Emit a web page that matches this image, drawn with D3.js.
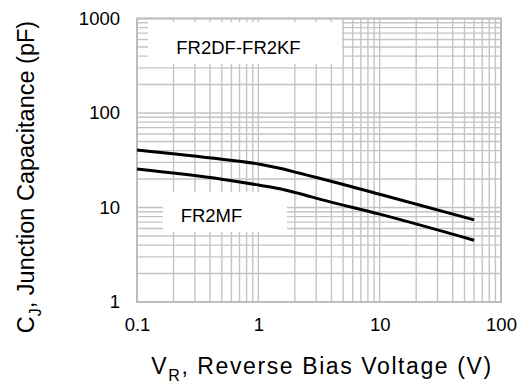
<!DOCTYPE html>
<html>
<head>
<meta charset="utf-8">
<script src="https://cdn.jsdelivr.net/npm/d3@7"></script>
<style>
  body { margin: 0; background: #fff; }
  text { font-family: "Liberation Sans", Arial, sans-serif; fill: #000; }
</style>
</head>
<body>
<svg id="chart" width="523" height="387"></svg>
<script>
// tick labels
const xTicks = [0.1, 1, 10, 100];
const yTicks = [1, 10, 100, 1000];

// FR2DF-FR2KF curve
const dkVolts = [0.1, 0.5, 1, 1.5, 2.2, 3.25, 10, 60];
const dkCap = [40.6, 32.4, 28.9, 26, 23, 20.3, 13.8, 7.4];

// FR2MF curve
const mVolts = [0.1, 0.5, 1, 1.5, 2.2, 3.25, 10, 60];
const mCap = [25.5, 19.9, 17.3, 15.8, 14, 12.2, 8.5, 4.5];

const plotLeft = 137, plotRight = 501, plotTop = 18.5, plotBottom = 302;

const svg = d3.select("#chart");

const x = d3.scaleLog().domain([0.1, 100]).range([plotLeft, plotRight]);
const y = d3.scaleLog().domain([1, 1000]).range([plotBottom, plotTop]);

// grid
const grid = svg.append("g").attr("stroke", "#c4c4c4").attr("stroke-width", 1.4);
grid.selectAll(".vx")
  .data(x.ticks())
  .enter()
  .append("line")
  .attr("x1", (d) => x(d))
  .attr("x2", (d) => x(d))
  .attr("y1", plotTop)
  .attr("y2", plotBottom);
grid.selectAll(".hy")
  .data(y.ticks())
  .enter()
  .append("line")
  .attr("x1", plotLeft)
  .attr("x2", plotRight)
  .attr("y1", (d) => y(d))
  .attr("y2", (d) => y(d));

svg.append("rect")
  .attr("x", plotLeft)
  .attr("y", plotTop)
  .attr("width", plotRight - plotLeft)
  .attr("height", plotBottom - plotTop)
  .attr("fill", "none")
  .attr("stroke", "#bdbdbd")
  .attr("stroke-width", 2);

// label boxes
svg.append("rect").attr("x", 148).attr("y", 22).attr("width", 194).attr("height", 42).attr("fill", "#fff");
svg.append("text").attr("x", 238.5).attr("y", 54).attr("font-size", "18.5px")
  .attr("text-anchor", "middle").text("FR2DF-FR2KF");

svg.append("rect").attr("x", 163).attr("y", 192).attr("width", 124).attr("height", 40).attr("fill", "#fff");
svg.append("text").attr("x", 211.5).attr("y", 222).attr("font-size", "18.5px")
  .attr("text-anchor", "middle").text("FR2MF");

// curves
const line = d3.line()
  .x((d) => x(d[0]))
  .y((d) => y(d[1]))
  .curve(d3.curveMonotoneX);

[d3.zip(dkVolts, dkCap), d3.zip(mVolts, mCap)].forEach((pts) => {
  svg.append("path")
    .datum(pts)
    .attr("d", line)
    .attr("fill", "none")
    .attr("stroke", "#000")
    .attr("stroke-width", 3);
});

// axes
const xAxis = svg.append("g")
  .attr("transform", "translate(0," + plotBottom + ")")
  .call(d3.axisBottom(x).tickValues(xTicks).tickSize(0).tickPadding(16)
    .tickFormat((d) => String(d)));
const yAxis = svg.append("g")
  .attr("transform", "translate(" + plotLeft + ",0)")
  .call(d3.axisLeft(y).tickValues(yTicks).tickSize(0).tickPadding(17)
    .tickFormat((d) => String(d)));
[xAxis, yAxis].forEach((g) => {
  g.select(".domain").remove();
  g.selectAll("text")
    .attr("font-size", "18.5px")
    .attr("font-family", "Liberation Sans, Arial, sans-serif")
    .attr("fill", "#000");
});

// titles
const xt = svg.append("text")
  .attr("x", 322)
  .attr("y", 374)
  .attr("font-size", "23px")
  .attr("letter-spacing", "1.6px")
  .attr("text-anchor", "middle");
xt.append("tspan").text("V");
xt.append("tspan").attr("font-size", "16px").attr("dy", 7).text("R");
xt.append("tspan").attr("dy", -7).text(", Reverse Bias Voltage (V)");

const yt = svg.append("text")
  .attr("transform", "translate(34,177) rotate(-90)")
  .attr("font-size", "23.5px")
  .attr("text-anchor", "middle");
yt.append("tspan").text("C");
yt.append("tspan").attr("font-size", "16px").attr("dy", 7).text("J");
yt.append("tspan").attr("dy", -7).text(", Junction Capacitance (pF)");
</script>
</body>
</html>
